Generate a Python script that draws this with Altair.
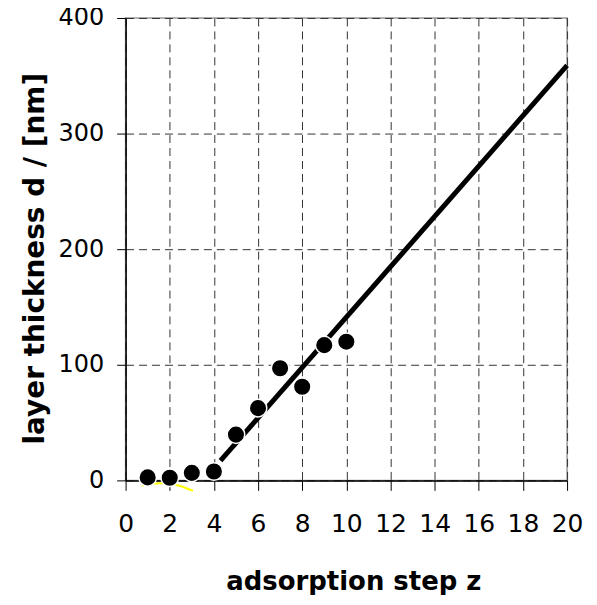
import altair as alt
import pandas as pd

steps = [1, 2, 3, 4, 5, 6, 7, 8, 9, 10]
thickness = [2.6, 2.3, 6.5, 7.7, 39.6, 62.5, 97, 81, 117, 120]

fit_z = [4.3, 20]
fit_d = [17, 359]

yellow_z = [0.75, 1.5, 2.2, 3.05]
yellow_d = [-4.5, -2.5, -3.5, -9]

x_ticks = list(range(0, 21, 2))
y_ticks = [0, 100, 200, 300, 400]

pts = pd.DataFrame({"z": steps, "d": thickness})
fit = pd.DataFrame({"z": fit_z, "d": fit_d})
yel = pd.DataFrame({"z": yellow_z, "d": yellow_d})

FONT = "DejaVu Sans"
W, H = 443, 464

xs = alt.Scale(domain=[0, 20], nice=False, zero=False)
ys = alt.Scale(domain=[0, 400], nice=False, zero=False)

xaxis = alt.Axis(
    values=x_ticks, title="adsorption step z", grid=True,
    gridDash=[8, 5], gridColor="#333333", gridWidth=1,
    domainColor="black", domainWidth=1.5, tickColor="black", tickSize=10,
    labelFont=FONT, labelFontSize=25, labelColor="black", labelPadding=21,
    labelOverlap=False, labelFlush=False,
    titleFont=FONT, titleFontSize=26, titleFontWeight="bold", titleColor="black",
    titleX=W / 2 + 7, titleY=109, titleBaseline="alphabetic", titleAlign="center",
)
yaxis = alt.Axis(
    values=y_ticks, title="layer thickness d / [nm]", grid=True,
    gridDash=[8, 5], gridColor="#333333", gridWidth=1,
    domainColor="black", domainWidth=1.5, tickColor="black", tickSize=9,
    labelFont=FONT, labelFontSize=24, labelColor="black", labelPadding=13,
    labelOverlap=False, labelFlush=False,
    titleFont=FONT, titleFontSize=28, titleFontWeight="bold", titleColor="black",
    titleX=-82, titleY=H / 2 + 9, titleBaseline="alphabetic", titleAlign="center", titleAngle=270,
)

base_x = alt.X("z:Q", scale=xs, axis=xaxis)
base_y = alt.Y("d:Q", scale=ys, axis=yaxis)

yellow = alt.Chart(yel).mark_line(color="#ffff00", strokeWidth=2, interpolate="monotone").encode(
    x=alt.X("z:Q", scale=xs), y=alt.Y("d:Q", scale=ys)
)
line = alt.Chart(fit).mark_line(color="black", strokeWidth=5).encode(x=base_x, y=base_y)
points = alt.Chart(pts).mark_point(
    filled=True, shape="circle", size=310, color="black", opacity=1,
    stroke="white", strokeWidth=1.5
).encode(x=alt.X("z:Q", scale=xs), y=alt.Y("d:Q", scale=ys))

chart = alt.layer(line, yellow, points).properties(
    width=W, height=H,
    autosize=alt.AutoSizeParams(type="none"),
    padding={"left": 118, "top": 9, "right": 22, "bottom": 114},
    background="white",
).configure_view(stroke="#999999", strokeWidth=1.5)

chart.save("out.html", embed_options={"renderer": "svg", "actions": False})
